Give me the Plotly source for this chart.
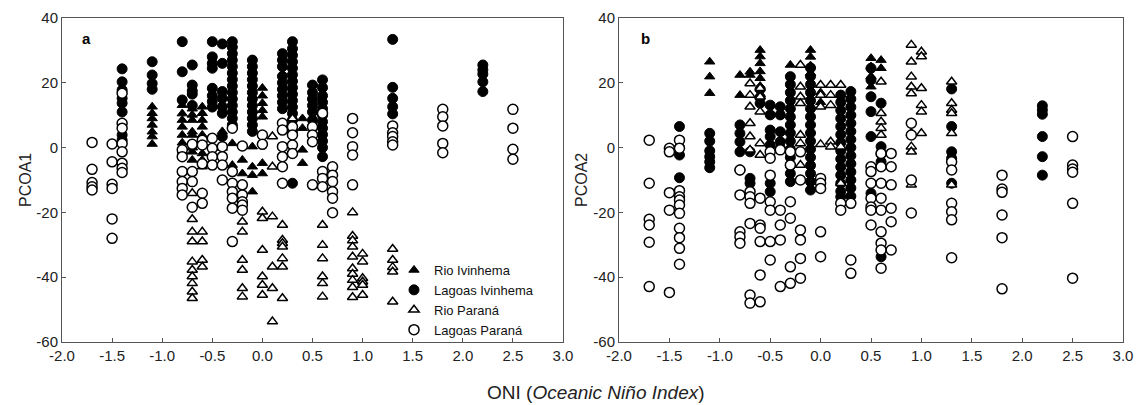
import plotly.graph_objects as go

# ---------------- Panel a (PCOA1) ----------------
a_rio_ivinhema_oni = [-1.1, -0.8, -0.7, -0.6, -0.4, -0.3, -0.2, -0.1, 0.0, 0.4]
a_rio_ivinhema_pcoa = [
    [12.6, 10.6, 9.0, 7.0, 4.9, 3.4, 1.1],
    [13.1, 10.5, 8.5, 6.4, 3.9, 1.5, -1.0],
    [12.0, 10.1, 8.5, 4.9, 3.9, -1.3, -3.8],
    [12.6, 10.6, 8.5, 6.4, 3.9, -1.8, -3.8, -5.9],
    [-0.1, 5.0],
    [1.3, -5.4],
    [-3.8, -8.0],
    [0.3, -5.9, -8.5, -13.6],
    [18.4, 16.0, 13.7, 11.5, 9.5, -4.8, -8.0, -21.8],
    [9.0, 6.0, -0.7, -4.8],
]

a_lagoas_ivinhema_oni = [-1.4, -1.1, -0.8, -0.7, -0.5, -0.4, -0.3, -0.1, 0.2, 0.3, 0.5, 0.6, 1.3, 2.2]
a_lagoas_ivinhema_pcoa = [
    [24.3, 20.3, 17.8, 15.2, 13.7, 11.0, 3.9, 2.3],
    [26.5, 22.4, 19.8, 18.0],
    [32.7, 23.4, 14.7],
    [25.5, 19.3, 17.5, 16.5, 13.0],
    [32.7, 28.0, 26.0, 24.5, 18.3, 16.0, 14.2, 12.5],
    [32.0, 26.0, 17.3, 15.2, 12.6, 10.6, 3.4],
    [32.7, 31.0, 29.0, 27.0, 25.0, 23.0, 21.0, 19.0, 17.0, 15.0, 13.0, 11.0, 9.0, 7.0],
    [27.0, 25.0, 23.0, 21.0, 19.0, 17.0, 15.0, 13.0, 11.0, 9.0, 7.0, 5.0],
    [29.0, 27.0, 25.0, 22.0, 20.0, 18.0, 16.0, 14.0, 12.0],
    [32.7, 30.5, 28.5, 26.5, 24.5, 22.5, 20.5, 18.5, 16.5, 14.5, 12.5, 10.5, 8.5, 5.0, -11.0],
    [19.3, 17.0, 15.0, 13.0, 11.0, 8.5],
    [20.9, 18.5, 16.0, 14.0, 12.0, 10.0, 8.0, 6.0, 4.0, 2.0, 0.0, -2.8],
    [33.4, 18.6, 15.2, 12.6, 10.4],
    [25.5, 24.0, 22.7, 20.3, 17.3],
]

a_rio_parana_oni = [-0.7, -0.6, -0.2, 0.0, 0.1, 0.2, 0.3, 0.6, 0.9, 1.0, 1.3]
a_rio_parana_pcoa = [
    [0.0, -14.1, -22.1, -26.0, -29.0, -35.2, -37.8, -39.8, -41.9, -44.5, -46.5],
    [-26.0, -29.0, -34.7, -36.8],
    [-22.9, -26.0, -34.7, -37.8, -43.4, -46.0],
    [-19.8, -21.8, -31.6, -39.8, -42.4, -45.5],
    [3.4, -5.9, -21.3, -36.8, -43.4, -53.7],
    [-23.9, -28.5, -29.5, -30.6, -34.2, -36.8, -46.5],
    [9.0],
    [-23.9, -30.1, -34.2, -39.8, -41.9, -46.0],
    [-20.0, -27.3, -28.7, -30.6, -33.7, -37.3, -39.0, -40.9, -43.1, -46.2],
    [-32.8, -35.2, -40.3, -41.4, -42.4, -45.5],
    [-31.3, -34.7, -36.9, -38.3, -47.6],
]

a_lagoas_parana_oni = [-1.7, -1.5, -1.4, -0.8, -0.7, -0.6, -0.5, -0.4, -0.3, -0.2,
                       0.0, 0.2, 0.3, 0.5, 0.6, 0.7, 0.9, 1.3, 1.8, 2.5]
a_lagoas_parana_pcoa = [
    [1.6, -6.7, -10.8, -12.1, -13.1],
    [1.1, -4.4, -11.3, -12.6, -22.0, -28.0],
    [16.8, 7.5, 6.0, 1.3, -1.3, -4.8, -6.4, -7.7],
    [-0.7, -2.8, -7.4, -10.5, -12.6, -14.6],
    [1.0, -7.4, -10.5, -18.4],
    [2.3, 0.8, -5.0, -14.1, -17.2],
    [2.9, -0.2, -2.8, -5.4],
    [0.3, -2.8, -5.4, -10.0],
    [6.0, -7.4, -11.0, -13.6, -15.6, -18.7, -29.0],
    [0.5, -11.5, -14.6, -16.7, -17.7, -19.3],
    [3.9, 1.0],
    [7.5, 5.4, 0.3, -2.8, -5.9, -11.0],
    [6.4, 3.9, 0.8, -1.8],
    [6.4, 3.9, 1.8, -11.5],
    [10.6, -7.4, -9.5, -12.1],
    [-5.9, -8.5, -10.5, -13.6, -15.6, -20.1],
    [9.0, 4.6, 0.3, -2.3, -11.5],
    [6.7, 4.6, 3.4, 1.8, 0.8],
    [11.8, 9.5, 6.7, 1.3, -1.6],
    [11.8, 6.0, -0.5, -3.6],
]

# ---------------- Panel b (PCOA2) ----------------
b_rio_ivinhema_oni = [-1.1, -0.8, -0.7, -0.6, -0.3, -0.1, 0.0, 0.5, 0.6]
b_rio_ivinhema_pcoa = [
    [26.5, 21.9, 16.8],
    [22.4, 16.2],
    [23.4, 22.4],
    [30.1, 28.1, 26.0, 23.5, 21.4, 19.0, 16.5],
    [25.5],
    [30.1, 28.0, 25.3, 23.0],
    [17.0, 14.0],
    [27.6, 25.0, 22.0, 18.8],
    [27.0, 24.5],
]

b_lagoas_ivinhema_oni = [-1.4, -1.1, -0.8, -0.7, -0.6, -0.5, -0.4, -0.3, -0.1, 0.2, 0.3, 0.5, 0.6, 1.3, 2.2]
b_lagoas_ivinhema_pcoa = [
    [6.5, 0.0, -2.3, -9.3],
    [4.4, 2.0, -1.0, -2.8, -4.4, -6.2],
    [7.0, 4.4, 1.8, -1.3, -6.9],
    [-1.3, -9.5, -11.0],
    [18.0, 15.5, 13.7],
    [13.1, 10.1, 5.4, 3.4, 0.8, -11.0, -13.6],
    [12.6, 10.1, 4.9, 1.8, -0.2],
    [21.9, 19.5, 17.0, 14.5, 12.0, 9.5, 7.0, 4.5, 2.0, -0.5, -3.0, -5.5, -8.0, -10.5],
    [24.6, 22.0, 19.5, 17.0, 14.5, 12.0, 9.5, 7.0, 4.5, 2.0, -0.5, -3.0, -5.5, -8.0, -10.5, -13.1],
    [16.2, 14.0, 11.5, 9.0, 6.5, 4.0, 1.5, -1.0, -3.5, -6.0, -8.5, -11.0, -13.5, -15.2],
    [17.3, 15.0, 12.5, 10.0, 7.5, 5.0, 2.5, 0.0, -2.5, -5.0, -7.5, -10.0, -12.5, -15.0],
    [24.5, 20.9, 15.7, 11.1, 3.4, -14.1],
    [13.7, 0.3, -2.0, -4.4, -33.7],
    [18.1, 6.5, -1.3, -3.3, -11.0],
    [12.9, 11.6, 10.3, 3.4, -2.8, -8.5],
]

b_rio_parana_oni = [-0.7, -0.6, -0.2, 0.0, 0.1, 0.2, 0.6, 0.9, 1.0, 1.3]
b_rio_parana_pcoa = [
    [19.8, 16.2, 12.6, 7.5, 3.4, -0.7],
    [18.3, 15.7, 11.1, 1.3, -2.3],
    [25.5, 18.8, 15.7, 13.7, 3.9, 1.3, -5.4],
    [19.3, 16.2, 12.6, 1.0],
    [19.3, 16.2, 13.1, 1.8, 0.3],
    [19.3, 0.3, -11.0],
    [20.3, 10.6, 8.0, 6.0, 3.9],
    [31.7, 26.5, 21.9, 18.8, 16.7, 4.4, 0.3, -1.3, -11.5],
    [29.6, 28.1, 18.3, 13.1, 11.1, 4.4],
    [20.3, 13.7, 11.6, 10.6, 4.4, -11.5],
]

b_lagoas_parana_oni = [-1.7, -1.5, -1.4, -0.8, -0.7, -0.6, -0.5, -0.4, -0.3, -0.2,
                       0.0, 0.2, 0.3, 0.5, 0.6, 0.7, 0.9, 1.3, 1.8, 2.5]
b_lagoas_parana_pcoa = [
    [2.3, -11.0, -22.1, -23.9, -29.2, -42.9],
    [-0.2, -1.3, -13.9, -19.3, -44.7],
    [2.3, -0.2, -13.3, -15.2, -16.2, -17.7, -20.3, -24.9, -27.8, -31.1, -36.0],
    [-6.9, -14.6, -26.0, -27.5, -29.5],
    [-13.6, -15.2, -17.2, -23.4, -45.5, -48.0],
    [-15.6, -23.9, -24.9, -29.0, -39.3, -47.6],
    [-1.3, -3.3, -8.5, -16.7, -19.3, -29.0, -34.7],
    [-0.7, -19.3, -23.9, -28.5, -42.9],
    [-1.3, -5.4, -16.7, -21.8, -36.8, -41.9],
    [-1.3, -10.0, -25.4, -28.5, -34.2, -40.3],
    [-9.5, -11.0, -12.6, -26.0, -33.7],
    [-17.2, -19.3],
    [-17.2, -34.7, -38.8],
    [-5.9, -7.4, -11.0, -15.6, -18.3, -19.3, -23.9],
    [-1.8, -5.9, -11.0, -15.6, -19.3, -26.0, -29.5, -31.6, -37.2],
    [-1.8, -5.9, -11.5, -18.7, -22.9, -31.6],
    [7.5, 3.9, -10.0, -20.2],
    [-4.4, -6.9, -17.2, -19.8, -22.3, -34.0],
    [-8.5, -12.8, -13.8, -20.8, -27.8, -43.6],
    [3.4, -5.4, -6.6, -7.6, -17.2, -40.3],
]

series_names = ["Rio Ivinhema", "Lagoas Ivinhema", "Rio Paraná", "Lagoas Paraná"]
x_tick_vals = [-2.0, -1.5, -1.0, -0.5, 0.0, 0.5, 1.0, 1.5, 2.0, 2.5, 3.0]
x_tick_labels = ["-2.0", "-1.5", "-1.0", "-0.5", "0.0", "0.5", "1.0", "1.5", "2.0", "2.5", "3.0"]
y_tick_vals = [-60, -40, -20, 0, 20, 40]
y_tick_labels = ["-60", "-40", "-20", "0", "20", "40"]
panel_labels = ["a", "b"]
y_titles = ["PCOA1", "PCOA2"]
x_title = "ONI (<i>Oceanic Niño Index</i>)"

styles = [
    dict(symbol="triangle-up", size=9, color="black", line=dict(color="black", width=1)),
    dict(symbol="circle", size=10, color="black", line=dict(color="black", width=1)),
    dict(symbol="triangle-up", size=9, color="white", line=dict(color="black", width=1.5)),
    dict(symbol="circle", size=10, color="white", line=dict(color="black", width=1.5)),
]


def expand(oni, pcoa):
    xs, ys = [], []
    for xv, col in zip(oni, pcoa):
        for yv in col:
            xs.append(xv)
            ys.append(yv)
    return xs, ys


panels = [
    [(a_rio_ivinhema_oni, a_rio_ivinhema_pcoa), (a_lagoas_ivinhema_oni, a_lagoas_ivinhema_pcoa),
     (a_rio_parana_oni, a_rio_parana_pcoa), (a_lagoas_parana_oni, a_lagoas_parana_pcoa)],
    [(b_rio_ivinhema_oni, b_rio_ivinhema_pcoa), (b_lagoas_ivinhema_oni, b_lagoas_ivinhema_pcoa),
     (b_rio_parana_oni, b_rio_parana_pcoa), (b_lagoas_parana_oni, b_lagoas_parana_pcoa)],
]

fig = go.Figure()
for p, series in enumerate(panels):
    for s, (oni, pcoa) in enumerate(series):
        xs, ys = expand(oni, pcoa)
        st = styles[s]
        fig.add_trace(go.Scatter(
            x=xs, y=ys, mode="markers", name=series_names[s],
            marker=dict(symbol=st["symbol"], size=st["size"], color=st["color"], line=st["line"]),
            xaxis="x" if p == 0 else "x2", yaxis="y" if p == 0 else "y2",
            showlegend=(p == 0), cliponaxis=True,
        ))

W, H = 1138, 405
font_family = "Arial, Liberation Sans, sans-serif"
axis_common = dict(
    showline=True, mirror=True, linecolor="#555555", linewidth=1,
    ticks="inside", ticklen=4, tickcolor="#555555", tickwidth=1,
    showgrid=False, zeroline=False, automargin=False,
    tickfont=dict(family=font_family, size=15, color="#222222"),
)
ydom = [1 - 342 / H, 1 - 18 / H]

fig.update_layout(
    width=W, height=H, autosize=False,
    margin=dict(l=0, r=0, t=0, b=0, pad=0),
    paper_bgcolor="white", plot_bgcolor="white",
    font=dict(family=font_family, color="#222222"),
    xaxis=dict(domain=[62 / W, 563 / W], range=[-2, 3], tickvals=x_tick_vals,
               ticktext=x_tick_labels, anchor="y", **axis_common),
    yaxis=dict(domain=ydom, range=[-60, 40], tickvals=y_tick_vals,
               ticktext=y_tick_labels, anchor="x", **axis_common),
    xaxis2=dict(domain=[619 / W, 1123 / W], range=[-2, 3], tickvals=x_tick_vals,
                ticktext=x_tick_labels, anchor="y2", **axis_common),
    yaxis2=dict(domain=ydom, range=[-60, 40], tickvals=y_tick_vals,
                ticktext=y_tick_labels, anchor="x2", **axis_common),
    legend=dict(x=394 / W, y=1 - 255 / H, xanchor="left", yanchor="top",
                bgcolor="rgba(0,0,0,0)", font=dict(family=font_family, size=13, color="#111111"),
                tracegroupgap=0, itemwidth=30),
    showlegend=True,
)

ann_common = dict(xref="paper", yref="paper", showarrow=False, xanchor="center", yanchor="middle")
annotations = [
    dict(text="<b>" + panel_labels[0] + "</b>", x=86 / W, y=1 - 38 / H,
         font=dict(size=15, color="black"), **ann_common),
    dict(text="<b>" + panel_labels[1] + "</b>", x=645 / W, y=1 - 38 / H,
         font=dict(size=15, color="black"), **ann_common),
    dict(text=y_titles[0], x=25 / W, y=1 - 180 / H, textangle=-90,
         font=dict(size=16, color="#222222"), **ann_common),
    dict(text=y_titles[1], x=581 / W, y=1 - 180 / H, textangle=-90,
         font=dict(size=16, color="#222222"), **ann_common),
    dict(text=x_title, x=596 / W, y=1 - 392 / H,
         font=dict(size=19, color="#222222"), **ann_common),
]
fig.update_layout(annotations=annotations)

fig.write_html("out.html")
